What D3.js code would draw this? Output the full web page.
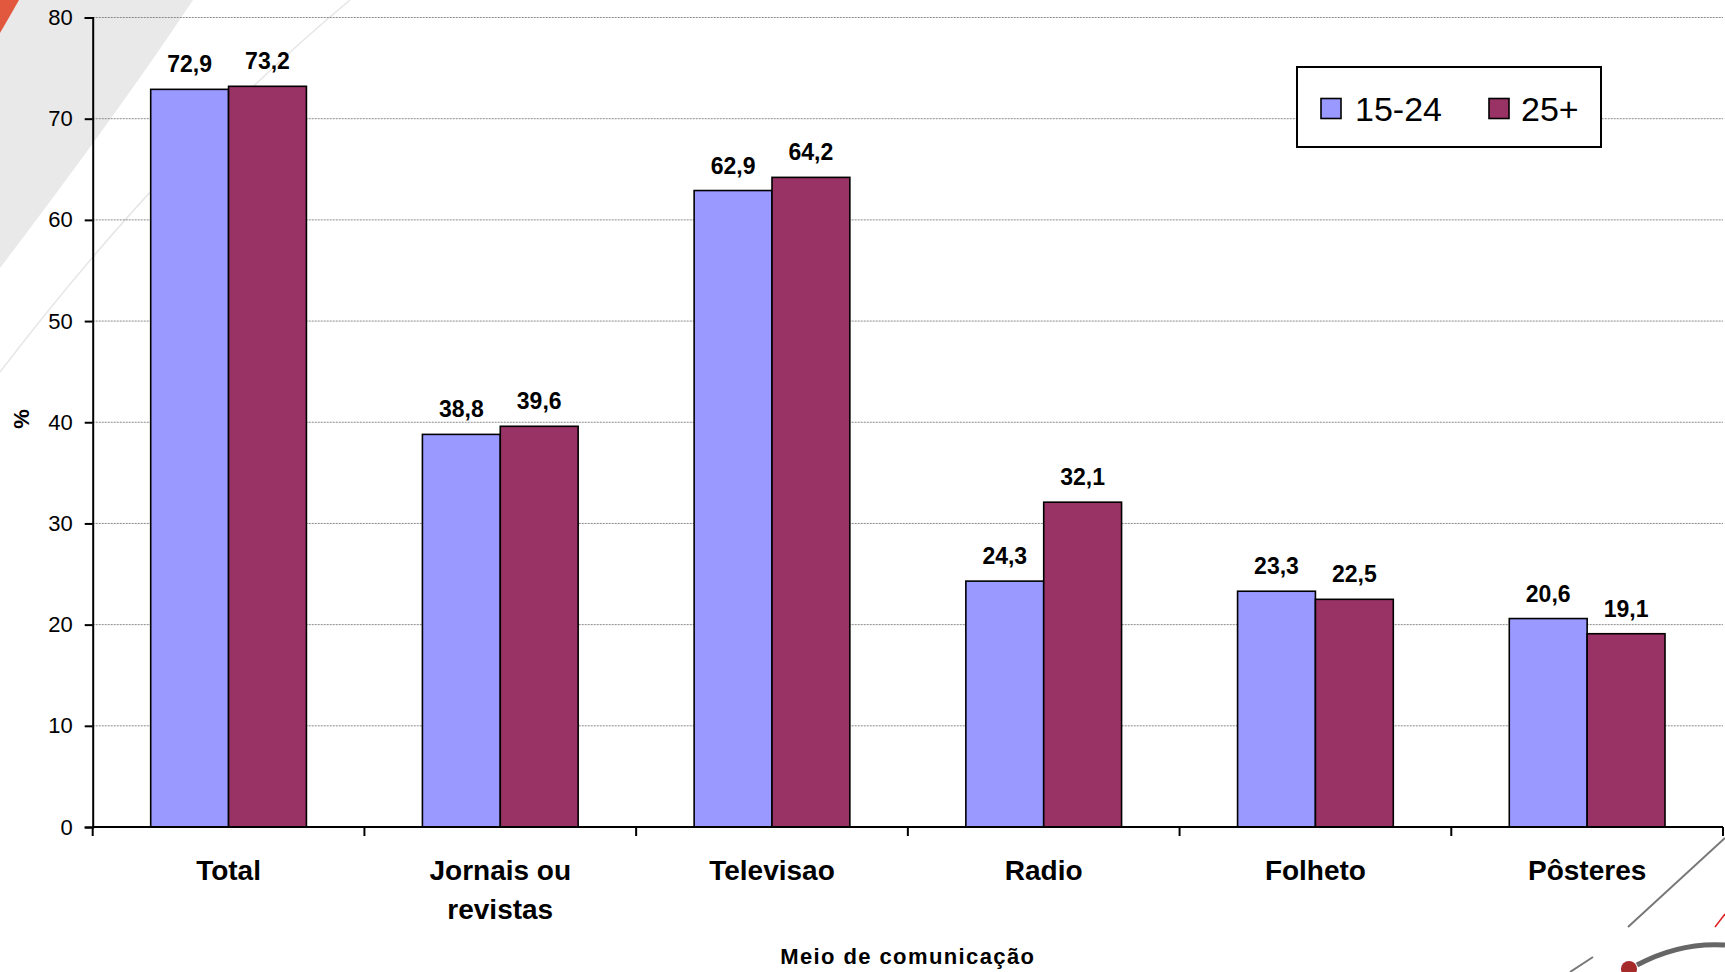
<!DOCTYPE html>
<html>
<head>
<meta charset="utf-8">
<script src="https://cdn.jsdelivr.net/npm/d3@7"></script>
<style>
  html, body { margin: 0; padding: 0; background: #fff; }
  svg { display: block; font-family: "Liberation Sans", Arial, sans-serif; }
</style>
</head>
<body>
<svg id="chart" width="1725" height="972"></svg>
<script>
const categories = ["Total", "Jornais ou\nrevistas", "Televisao", "Radio", "Folheto", "Pôsteres"];
const seriesNames = ["15-24", "25+"];
const values1524 = [72.9, 38.8, 62.9, 24.3, 23.3, 20.6];
const values25 = [73.2, 39.6, 64.2, 32.1, 22.5, 19.1];
const yTicks = [0, 10, 20, 30, 40, 50, 60, 70, 80];
const colors = ["#9999FF", "#993366"];
const xTitle = "Meio de comunicação";
const yTitle = "%";

(function () {
const seriesValues = [values1524, values25];
const pLeft = 92.7, pRight = 1723, pTop = 17.5, pBottom = 827;

const svg = d3.select("#chart");

// background template decorations
const deco = svg.append("g");
deco.append("path")
  .attr("d", "M0,0 L193,0 Q120,110 0,268 Z")
  .attr("fill", "#e9e9e9");
deco.append("path")
  .attr("d", "M350,0 Q170,150 0,372")
  .attr("fill", "none").attr("stroke", "#e6e6e6").attr("stroke-width", 1.5);
deco.append("path")
  .attr("d", "M0,0 L19,0 Q10,16 0,33 Z")
  .attr("fill", "#e2583e");
deco.append("line").attr("x1", 1725).attr("y1", 838).attr("x2", 1628).attr("y2", 927)
  .attr("stroke", "#777").attr("stroke-width", 2);
deco.append("line").attr("x1", 1593).attr("y1", 957).attr("x2", 1570).attr("y2", 972)
  .attr("stroke", "#777").attr("stroke-width", 2);
deco.append("line").attr("x1", 1725).attr("y1", 914).attr("x2", 1715).attr("y2", 927)
  .attr("stroke", "#e02020").attr("stroke-width", 1.5);
deco.append("path").attr("d", "M1637,965 Q1680,942 1725,945")
  .attr("fill", "none").attr("stroke", "#666").attr("stroke-width", 5);
deco.append("circle").attr("cx", 1629).attr("cy", 969).attr("r", 8).attr("fill", "#a52a2a");

const y = d3.scaleLinear().domain([0, 80]).range([pBottom, pTop]);
const x0 = d3.scaleBand().domain(categories).range([pLeft, pRight]).padding(0);
const bw = x0.bandwidth();
const x1 = d3.scaleBand().domain(seriesNames).range([58, bw - 58]).padding(0);

const fmt = d3.formatLocale({decimal: ",", thousands: ".", grouping: [3], currency: ["", ""]}).format(".1f");

// gridlines
svg.append("g").selectAll("line").data(yTicks.filter(d => d > 0)).join("line")
  .attr("x1", pLeft).attr("x2", pRight)
  .attr("y1", d => y(d)).attr("y2", d => y(d))
  .attr("stroke", "#8a8a8a").attr("stroke-width", 1).attr("stroke-dasharray", "2,1");

// bars
const groups = svg.append("g").selectAll("g").data(categories).join("g")
  .attr("transform", d => `translate(${x0(d)},0)`);
groups.selectAll("rect")
  .data((d, i) => seriesNames.map((s, j) => ({s, v: seriesValues[j][i], j})))
  .join("rect")
  .attr("x", d => x1(d.s))
  .attr("width", x1.bandwidth())
  .attr("y", d => y(d.v))
  .attr("height", d => y(0) - y(d.v))
  .attr("fill", d => colors[d.j])
  .attr("stroke", "#000").attr("stroke-width", 1.6);
groups.selectAll("text.val")
  .data((d, i) => seriesNames.map((s, j) => ({s, v: seriesValues[j][i], j})))
  .join("text").attr("class", "val")
  .attr("x", d => x1(d.s) + x1.bandwidth() / 2)
  .attr("y", d => y(d.v) - 17)
  .attr("text-anchor", "middle")
  .attr("font-size", 23).attr("font-weight", "bold").attr("fill", "#000")
  .text(d => fmt(d.v));

// y axis
const yAxis = svg.append("g").attr("transform", `translate(${pLeft},0)`)
  .call(d3.axisLeft(y).tickValues(yTicks).tickSize(8).tickPadding(12).tickFormat(d3.format("d")));
yAxis.select(".domain").attr("stroke", "#000").attr("stroke-width", 2);
yAxis.selectAll(".tick line").attr("stroke", "#000").attr("stroke-width", 2);
yAxis.selectAll(".tick text").attr("font-size", 22).attr("fill", "#000")
  .attr("font-family", "Liberation Sans, Arial, sans-serif");

// x axis line and boundary ticks
const xAxisG = svg.append("g");
xAxisG.append("line").attr("x1", pLeft).attr("x2", pRight).attr("y1", pBottom).attr("y2", pBottom)
  .attr("stroke", "#000").attr("stroke-width", 2);
const boundaries = categories.map(c => x0(c)).concat([x0(categories[categories.length - 1]) + bw]);
xAxisG.selectAll("line.tk").data(boundaries).join("line").attr("class", "tk")
  .attr("x1", d => d).attr("x2", d => d).attr("y1", pBottom).attr("y2", pBottom + 9)
  .attr("stroke", "#000").attr("stroke-width", 2);

// category labels
const catLabels = svg.append("g").selectAll("text").data(categories).join("text")
  .attr("x", d => x0(d) + bw / 2)
  .attr("y", 880)
  .attr("text-anchor", "middle")
  .attr("font-size", 28).attr("font-weight", "bold").attr("fill", "#000");
catLabels.each(function(d) {
  const lines = d.split("\n");
  const t = d3.select(this);
  lines.forEach((ln, i) => {
    t.append("tspan").attr("x", x0(d) + bw / 2).attr("dy", i === 0 ? 0 : 39).text(ln);
  });
});

// axis titles
svg.append("text")
  .attr("x", (pLeft + pRight) / 2).attr("y", 964)
  .attr("text-anchor", "middle")
  .attr("font-size", 22).attr("font-weight", "bold").attr("letter-spacing", 1.4)
  .attr("fill", "#000").text(xTitle);
svg.append("text")
  .attr("transform", `translate(29,419) rotate(-90)`)
  .attr("text-anchor", "middle")
  .attr("font-size", 22).attr("font-weight", "bold").attr("fill", "#000")
  .text(yTitle);

// legend
const lg = svg.append("g");
lg.append("rect").attr("x", 1297).attr("y", 67).attr("width", 304).attr("height", 80)
  .attr("fill", "#fff").attr("stroke", "#000").attr("stroke-width", 2);
const legendX = [1321, 1489];
const legendTextX = [1355, 1521];
seriesNames.forEach((s, i) => {
  lg.append("rect").attr("x", legendX[i]).attr("y", 98.5).attr("width", 20).attr("height", 20)
    .attr("fill", colors[i]).attr("stroke", "#000").attr("stroke-width", 1.6);
  lg.append("text").attr("x", legendTextX[i]).attr("y", 121)
    .attr("font-size", 34).attr("fill", "#000").text(s);
});
})();
</script>
</body>
</html>
